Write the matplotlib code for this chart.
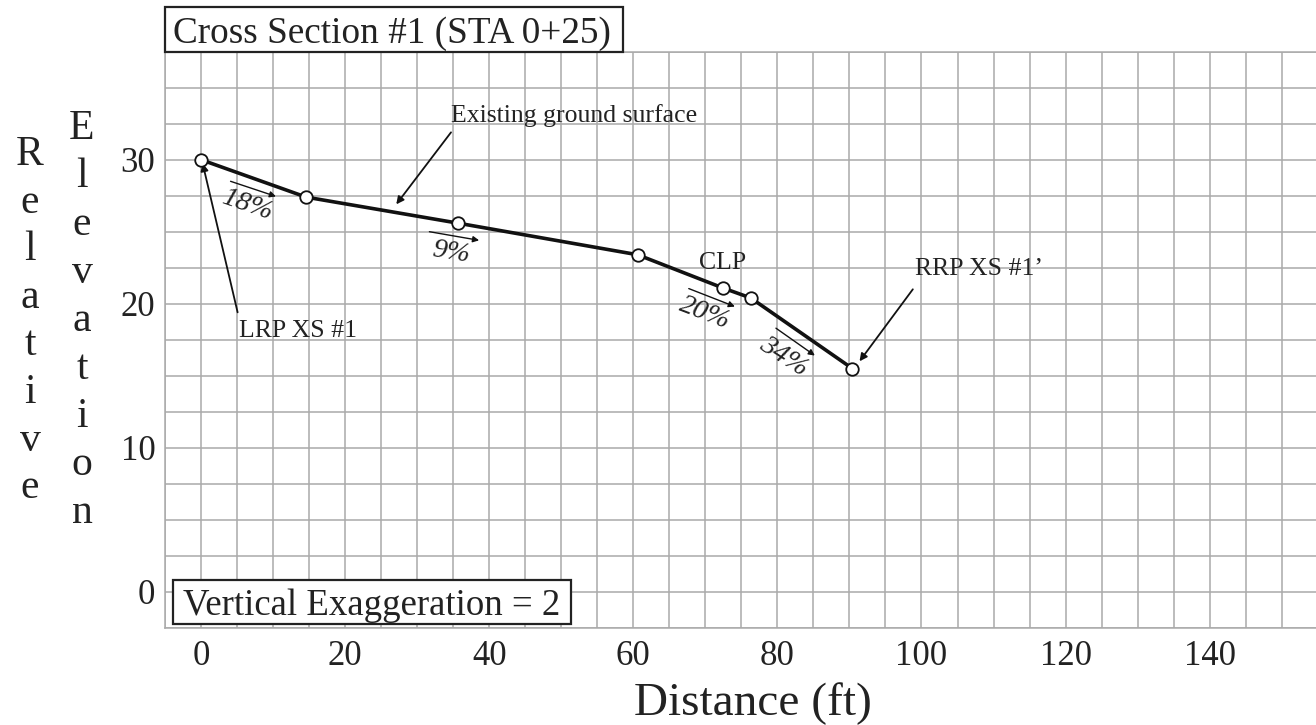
import matplotlib.pyplot as plt
from matplotlib.patches import Rectangle
from matplotlib.ticker import MultipleLocator

# survey points along the cross section
distance = [0, 14.6, 35.6, 60.6, 72.4, 76.3, 90.4]
elevation = [30.0, 27.4, 25.6, 23.4, 21.1, 20.4, 15.5]

x_ticks = [0, 20, 40, 60, 80, 100, 120, 140]
y_ticks = [0, 10, 20, 30]

# slope labels: text, text position, arrow start, arrow end, rotation
slopes = [
    ('18%', (6.5, 26.85), (4.1, 28.5), (10.4, 27.45), -19),
    ('9%', (34.7, 23.55), (31.7, 25.0), (38.6, 24.4), -9),
    ('20%', (69.9, 19.35), (67.7, 21.05), (74.1, 19.8), -21),
    ('34%', (80.8, 16.3), (79.8, 18.3), (85.2, 16.4), -33),
]

plt.rcParams['font.family'] = ['Liberation Serif', 'DejaVu Serif']
W, H = 1316, 725


def fx(px):
    return px / W


def fy(py):
    return 1 - py / H


fig = plt.figure(figsize=(13.16, 7.25), dpi=100)
ax = fig.add_axes([fx(165), fy(627.7), fx(1316 - 165), (627.7 - 51.7) / H])

ax.plot(distance, elevation, color='#111111', lw=2.6, zorder=3)
ax.plot(distance, elevation, 'o', ms=9, mfc='white', mec='#111111', mew=1.3, zorder=4)

ax.set_xlim(-5, 154.76)
ax.set_ylim(-2.5, 37.5)
ax.set_xticks(x_ticks)
ax.set_yticks(y_ticks)
ax.xaxis.set_minor_locator(MultipleLocator(5))
ax.yaxis.set_minor_locator(MultipleLocator(2.5))
ax.grid(True, which='both', color='#aaaaaa', lw=1.1)
ax.set_axisbelow(True)
ax.tick_params(which='both', length=0, labelsize=25, colors='#222222')
ax.tick_params(axis='x', pad=9)
ax.tick_params(axis='y', pad=7)
for s in ax.spines.values():
    s.set_color('#aaaaaa')
    s.set_linewidth(1.1)
ax.spines['right'].set_visible(False)

arrow = dict(arrowstyle='-|>', color='#111111', lw=1.3, mutation_scale=11, shrinkA=0, shrinkB=0)
small = dict(arrowstyle='-|>', color='#111111', lw=1.0, mutation_scale=9, shrinkA=0, shrinkB=0)

ax.annotate('', xy=(27.1, 26.9), xytext=(34.7, 31.9), arrowprops=arrow)
ax.text(34.7, 33.1, 'Existing ground surface', fontsize=18.5, va='center', ha='left', color='#222222')

ax.annotate('', xy=(0.22, 29.75), xytext=(5.08, 19.4), arrowprops=arrow)
ax.text(5.3, 18.1, 'LRP XS #1', fontsize=18.5, va='center', ha='left', color='#222222')

ax.annotate('', xy=(91.4, 16.0), xytext=(98.8, 21.0), arrowprops=arrow)
ax.text(99.1, 22.4, 'RRP XS #1\u2019', fontsize=18.5, va='center', ha='left', color='#222222')

ax.text(72.45, 22.8, 'CLP', fontsize=18.5, va='center', ha='center', color='#222222')

for label, tpos, a0, a1, rot in slopes:
    ax.annotate('', xy=a1, xytext=a0, arrowprops=small)
    ax.text(tpos[0], tpos[1], label, fontsize=20.5, style='italic', rotation=rot,
            rotation_mode='anchor', va='center', ha='center', color='#222222')

# title box
fig.add_artist(Rectangle((fx(165), fy(51.7)), fx(623.3 - 165), (51.7 - 6.7) / H,
                         transform=fig.transFigure, fill=True, fc='white', ec='#222222', lw=1.6))
fig.text(fx(173), fy(43.3), 'Cross Section #1 (STA 0+25)', fontsize=26.8, va='baseline', color='#222222')

# vertical exaggeration box
fig.add_artist(Rectangle((fx(173.3), fy(624)), fx(570.7 - 173.3), (624 - 580) / H,
                         transform=fig.transFigure, fill=True, fc='white', ec='#222222', lw=1.6))
fig.text(fx(183.3), fy(615), 'Vertical Exaggeration = 2', fontsize=26.5, va='baseline', color='#222222')

fig.text(fx(753.3), fy(715), 'Distance (ft)', fontsize=34, ha='center', va='baseline', color='#222222')

# stacked y label letters
for i, ch in enumerate('Relative'):
    fig.text(fx(30), fy(165 + i * 47.6), ch, fontsize=30, ha='center', va='baseline', color='#222222')
for i, ch in enumerate('Elevation'):
    fig.text(fx(82), fy(139.3 + i * 48), ch, fontsize=30, ha='center', va='baseline', color='#222222')

fig.savefig('out.png', dpi=100)
